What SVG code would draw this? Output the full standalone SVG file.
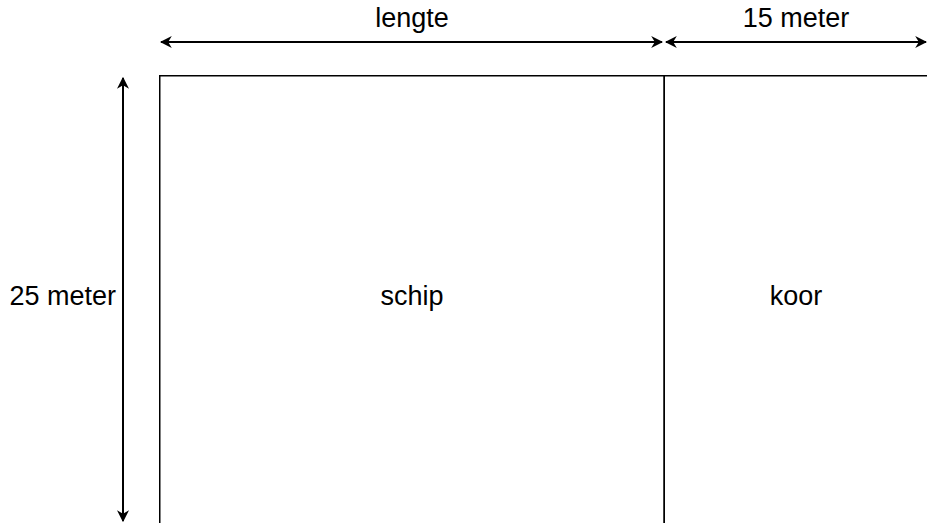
<svg xmlns="http://www.w3.org/2000/svg" width="927" height="523" viewBox="0 0 927 523">
<style>
.t{font-family:"Liberation Sans",Arial,sans-serif;font-size:27px;fill:#000}
.box{fill:#fff;stroke:#000;stroke-width:1.5}
.dim{stroke:#000;stroke-width:2;fill:none}
</style>
<defs>
<marker id="ah" viewBox="0 0 10 10" refX="9" refY="5" markerWidth="12" markerHeight="12" markerUnits="userSpaceOnUse" orient="auto-start-reverse">
<path d="M0,0 L10,5 L0,10 L3,5 Z" fill="#000"/>
</marker>
</defs>
<rect width="927" height="523" fill="#fff"/>
<g id="schip">
<rect class="box" x="159.75" y="75.75" width="504.5" height="460"/>
<text class="t" x="412" y="305" text-anchor="middle">schip</text>
</g>
<g id="koor">
<rect class="box" x="664.25" y="75.75" width="280" height="460"/>
<text class="t" x="796" y="305" text-anchor="middle">koor</text>
</g>
<g id="connectors">
<line class="dim" x1="161" y1="42" x2="662" y2="42" marker-start="url(#ah)" marker-end="url(#ah)"/>
<line class="dim" x1="666" y1="42" x2="926" y2="42" marker-start="url(#ah)" marker-end="url(#ah)"/>
<line class="dim" x1="123" y1="78" x2="123" y2="521" marker-start="url(#ah)" marker-end="url(#ah)"/>
</g>
<g id="labels">
<text class="t" x="412" y="27" text-anchor="middle">lengte</text>
<text class="t" x="796" y="27" text-anchor="middle">15 meter</text>
<text class="t" x="116" y="305" text-anchor="end">25 meter</text>
</g>
</svg>
